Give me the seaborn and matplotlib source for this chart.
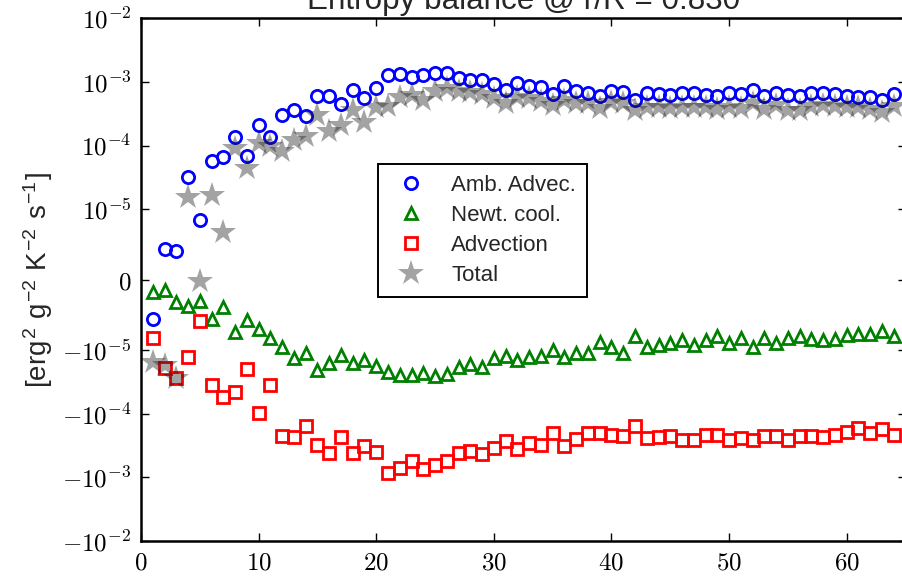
import matplotlib
matplotlib.use("Agg")
import numpy as np
import pandas as pd
import matplotlib.pyplot as plt
from matplotlib.ticker import FixedLocator, FuncFormatter
import seaborn as sns

# ---- data -----------------------------------------------------------------
steps = list(range(1, 65))

amb_advec = [-5.5e-6, 4.3e-6, 4.0e-6, 3.2e-5, 8.4e-6, 5.7e-5, 6.5e-5, 1.37e-4,
             6.9e-5, 2.09e-4, 1.34e-4, 3.07e-4, 3.67e-4, 2.96e-4, 5.96e-4,
             5.96e-4, 4.46e-4, 7.4e-4, 5.68e-4, 7.96e-4, 1.27e-3, 1.32e-3,
             1.20e-3, 1.27e-3, 1.38e-3, 1.38e-3, 1.17e-3, 1.09e-3, 1.09e-3,
             9.2e-4, 7.4e-4, 9.6e-4, 8.5e-4, 8.3e-4, 6.4e-4, 8.5e-4, 7.2e-4,
             6.7e-4, 6.0e-4, 7.2e-4, 7.0e-4, 5.2e-4, 6.6e-4, 6.4e-4, 6.25e-4,
             6.7e-4, 6.7e-4, 6.25e-4, 6.0e-4, 6.7e-4, 6.4e-4, 7.4e-4, 6.1e-4,
             6.7e-4, 6.3e-4, 6.0e-4, 6.6e-4, 6.7e-4, 6.4e-4, 6.1e-4, 5.8e-4,
             5.8e-4, 5.2e-4, 6.4e-4]

newt_cool = [-1.7e-6, -1.5e-6, -3.1e-6, -3.7e-6, -3.0e-6, -5.5e-6, -3.9e-6,
             -7.4e-6, -5.7e-6, -7.0e-6, -8.2e-6, -9.6e-6, -1.34e-5, -1.11e-5,
             -2.04e-5, -1.6e-5, -1.18e-5, -1.6e-5, -1.42e-5, -1.76e-5, -2.16e-5,
             -2.44e-5, -2.44e-5, -2.24e-5, -2.53e-5, -2.35e-5, -1.81e-5,
             -1.64e-5, -1.81e-5, -1.34e-5, -1.23e-5, -1.42e-5, -1.26e-5,
             -1.23e-5, -9.95e-6, -1.26e-5, -1.09e-5, -1.09e-5, -8.8e-6, -9.5e-6,
             -1.11e-5, -8.0e-6, -9.6e-6, -9.2e-6, -8.9e-6, -8.6e-6, -9.2e-6,
             -8.5e-6, -8.0e-6, -8.9e-6, -8.3e-6, -9.5e-6, -8.2e-6, -8.9e-6,
             -8.3e-6, -8.0e-6, -8.4e-6, -8.5e-6, -8.4e-6, -7.8e-6, -7.7e-6,
             -7.7e-6, -7.2e-6, -8.0e-6]

advection = [-8.2e-6, -1.92e-5, -2.75e-5, -1.26e-5, -5.8e-6, -3.5e-5, -5.35e-5,
             -4.46e-5, -1.99e-5, -9.8e-5, -3.5e-5, -2.22e-4, -2.33e-4, -1.54e-4,
             -3.07e-4, -4.15e-4, -2.33e-4, -4.15e-4, -3.26e-4, -4.05e-4,
             -8.55e-4, -7.1e-4, -5.6e-4, -7.3e-4, -6.3e-4, -5.6e-4, -4.2e-4,
             -3.8e-4, -4.3e-4, -3.5e-4, -2.66e-4, -3.6e-4, -2.9e-4, -3.1e-4,
             -1.97e-4, -3.2e-4, -2.5e-4, -1.97e-4, -2.0e-4, -2.16e-4, -2.2e-4,
             -1.56e-4, -2.41e-4, -2.33e-4, -2.27e-4, -2.56e-4, -2.56e-4,
             -2.14e-4, -2.14e-4, -2.56e-4, -2.41e-4, -2.56e-4, -2.22e-4,
             -2.27e-4, -2.56e-4, -2.27e-4, -2.27e-4, -2.33e-4, -2.14e-4,
             -1.96e-4, -1.68e-4, -2.0e-4, -1.74e-4, -2.14e-4]

total = [-1.5e-5, -1.7e-5, -2.7e-5, 1.56e-5, -2e-7, 1.66e-5, 6.8e-6, 9.1e-5,
         4.5e-5, 1.1e-4, 1.0e-4, 8.1e-5, 1.21e-4, 1.4e-4, 3.0e-4, 1.7e-4,
         2.08e-4, 3.6e-4, 2.35e-4, 4.05e-4, 4.2e-4, 5.9e-4, 6.2e-4, 5.2e-4,
         7.3e-4, 8.0e-4, 7.3e-4, 6.9e-4, 6.4e-4, 5.6e-4, 4.6e-4, 5.9e-4,
         5.5e-4, 5.1e-4, 4.3e-4, 5.2e-4, 4.6e-4, 4.6e-4, 3.9e-4, 4.9e-4,
         4.7e-4, 3.6e-4, 4.1e-4, 4.0e-4, 3.9e-4, 4.05e-4, 4.05e-4, 4.0e-4,
         3.8e-4, 4.05e-4, 3.9e-4, 4.75e-4, 3.8e-4, 4.35e-4, 3.65e-4, 3.65e-4,
         4.25e-4, 4.3e-4, 4.2e-4, 4.05e-4, 4.05e-4, 3.7e-4, 3.4e-4, 4.2e-4]

series_labels = ["Amb. Advec.", "Newt. cool.", "Advection", "Total"]
title_text = "Entropy balance @ r/R = 0.830"
ylabel_text = (r"[erg$^\mathregular{2}$ g$^\mathregular{-2}$ "
               r"K$^\mathregular{-2}$ s$^\mathregular{-1}$]")
x_ticks = [0, 10, 20, 30, 40, 50, 60]
y_ticks = [-1e-2, -1e-3, -1e-4, -1e-5, 0, 1e-5, 1e-4, 1e-3, 1e-2]

BLUE, GREEN, RED = "#0000ff", "#008000", "#ff0000"

# ---- style ----------------------------------------------------------------
sns.set_theme(style="ticks")
plt.rcParams.update({
    "font.family": ["Liberation Sans", "DejaVu Sans"],
    "mathtext.fontset": "cm",
    "axes.linewidth": 1.8,
    "xtick.direction": "in",
    "ytick.direction": "in",
    "xtick.top": True,
    "ytick.right": True,
    "xtick.major.size": 6,
    "ytick.major.size": 6,
    "xtick.major.width": 1.0,
    "ytick.major.width": 1.0,
    "xtick.major.pad": 7,
    "ytick.major.pad": 7,
    "xtick.color": "black",
    "ytick.color": "black",
    "axes.edgecolor": "black",
})

df = pd.DataFrame({"step": steps, "amb": amb_advec, "newt": newt_cool,
                   "adv": advection, "total": total})

fig = plt.figure(figsize=(9.02, 5.82), dpi=100)
ax = fig.add_axes([0.1563, 0.0705, 0.8476, 0.8978])

common = dict(linestyle="", errorbar=None, sort=True, ax=ax)
sns.lineplot(data=df, x="step", y="amb", marker="o", color=BLUE, ms=8.8,
             mfc="none", mec=BLUE, mew=2.0, label=series_labels[0], **common)
sns.lineplot(data=df, x="step", y="newt", marker="^", color=GREEN, ms=8.8,
             mfc="none", mec=GREEN, mew=2.0, label=series_labels[1], **common)
sns.lineplot(data=df, x="step", y="adv", marker="s", color=RED, ms=8.8,
             mfc="none", mec=RED, mew=2.0, label=series_labels[2], **common)
sns.lineplot(data=df, x="step", y="total", marker="*", color="k", ms=19,
             mec="none", mew=0, alpha=0.4, label=series_labels[3], **common)

ax.set_yscale("symlog", linthresh=1e-5, linscale=1)
ax.set_xlim(0, 65)
ax.set_ylim(-1e-2, 1e-2)

ax.xaxis.set_major_locator(FixedLocator(x_ticks))
ax.xaxis.set_major_formatter(FuncFormatter(lambda v, p: rf"${int(v)}$"))


def sym_label(v, pos):
    if v == 0:
        return r"$0$"
    e = int(round(np.log10(abs(v))))
    sign = "-" if v < 0 else ""
    return rf"${sign}10^{{{e}}}$"


ax.yaxis.set_major_locator(FixedLocator(y_ticks))
ax.yaxis.set_major_formatter(FuncFormatter(sym_label))
ax.yaxis.set_minor_locator(FixedLocator([]))
ax.xaxis.set_minor_locator(FixedLocator([]))
ax.tick_params(labelsize=18)

ax.set_xlabel("")
ax.set_ylabel(ylabel_text, fontsize=20)
ax.yaxis.set_label_coords(-0.112, 0.5)
ax.set_title(title_text, fontsize=22.6, pad=6.5)

leg = ax.legend(loc="center", bbox_to_anchor=(0.4467, 0.594), numpoints=1,
                fontsize=16, frameon=True, fancybox=False, framealpha=1,
                edgecolor="black", borderpad=0.5, labelspacing=0.4,
                handlelength=2.0, handletextpad=0.8)
leg.get_frame().set_linewidth(1.4)

fig.savefig("out.png", dpi=100)
